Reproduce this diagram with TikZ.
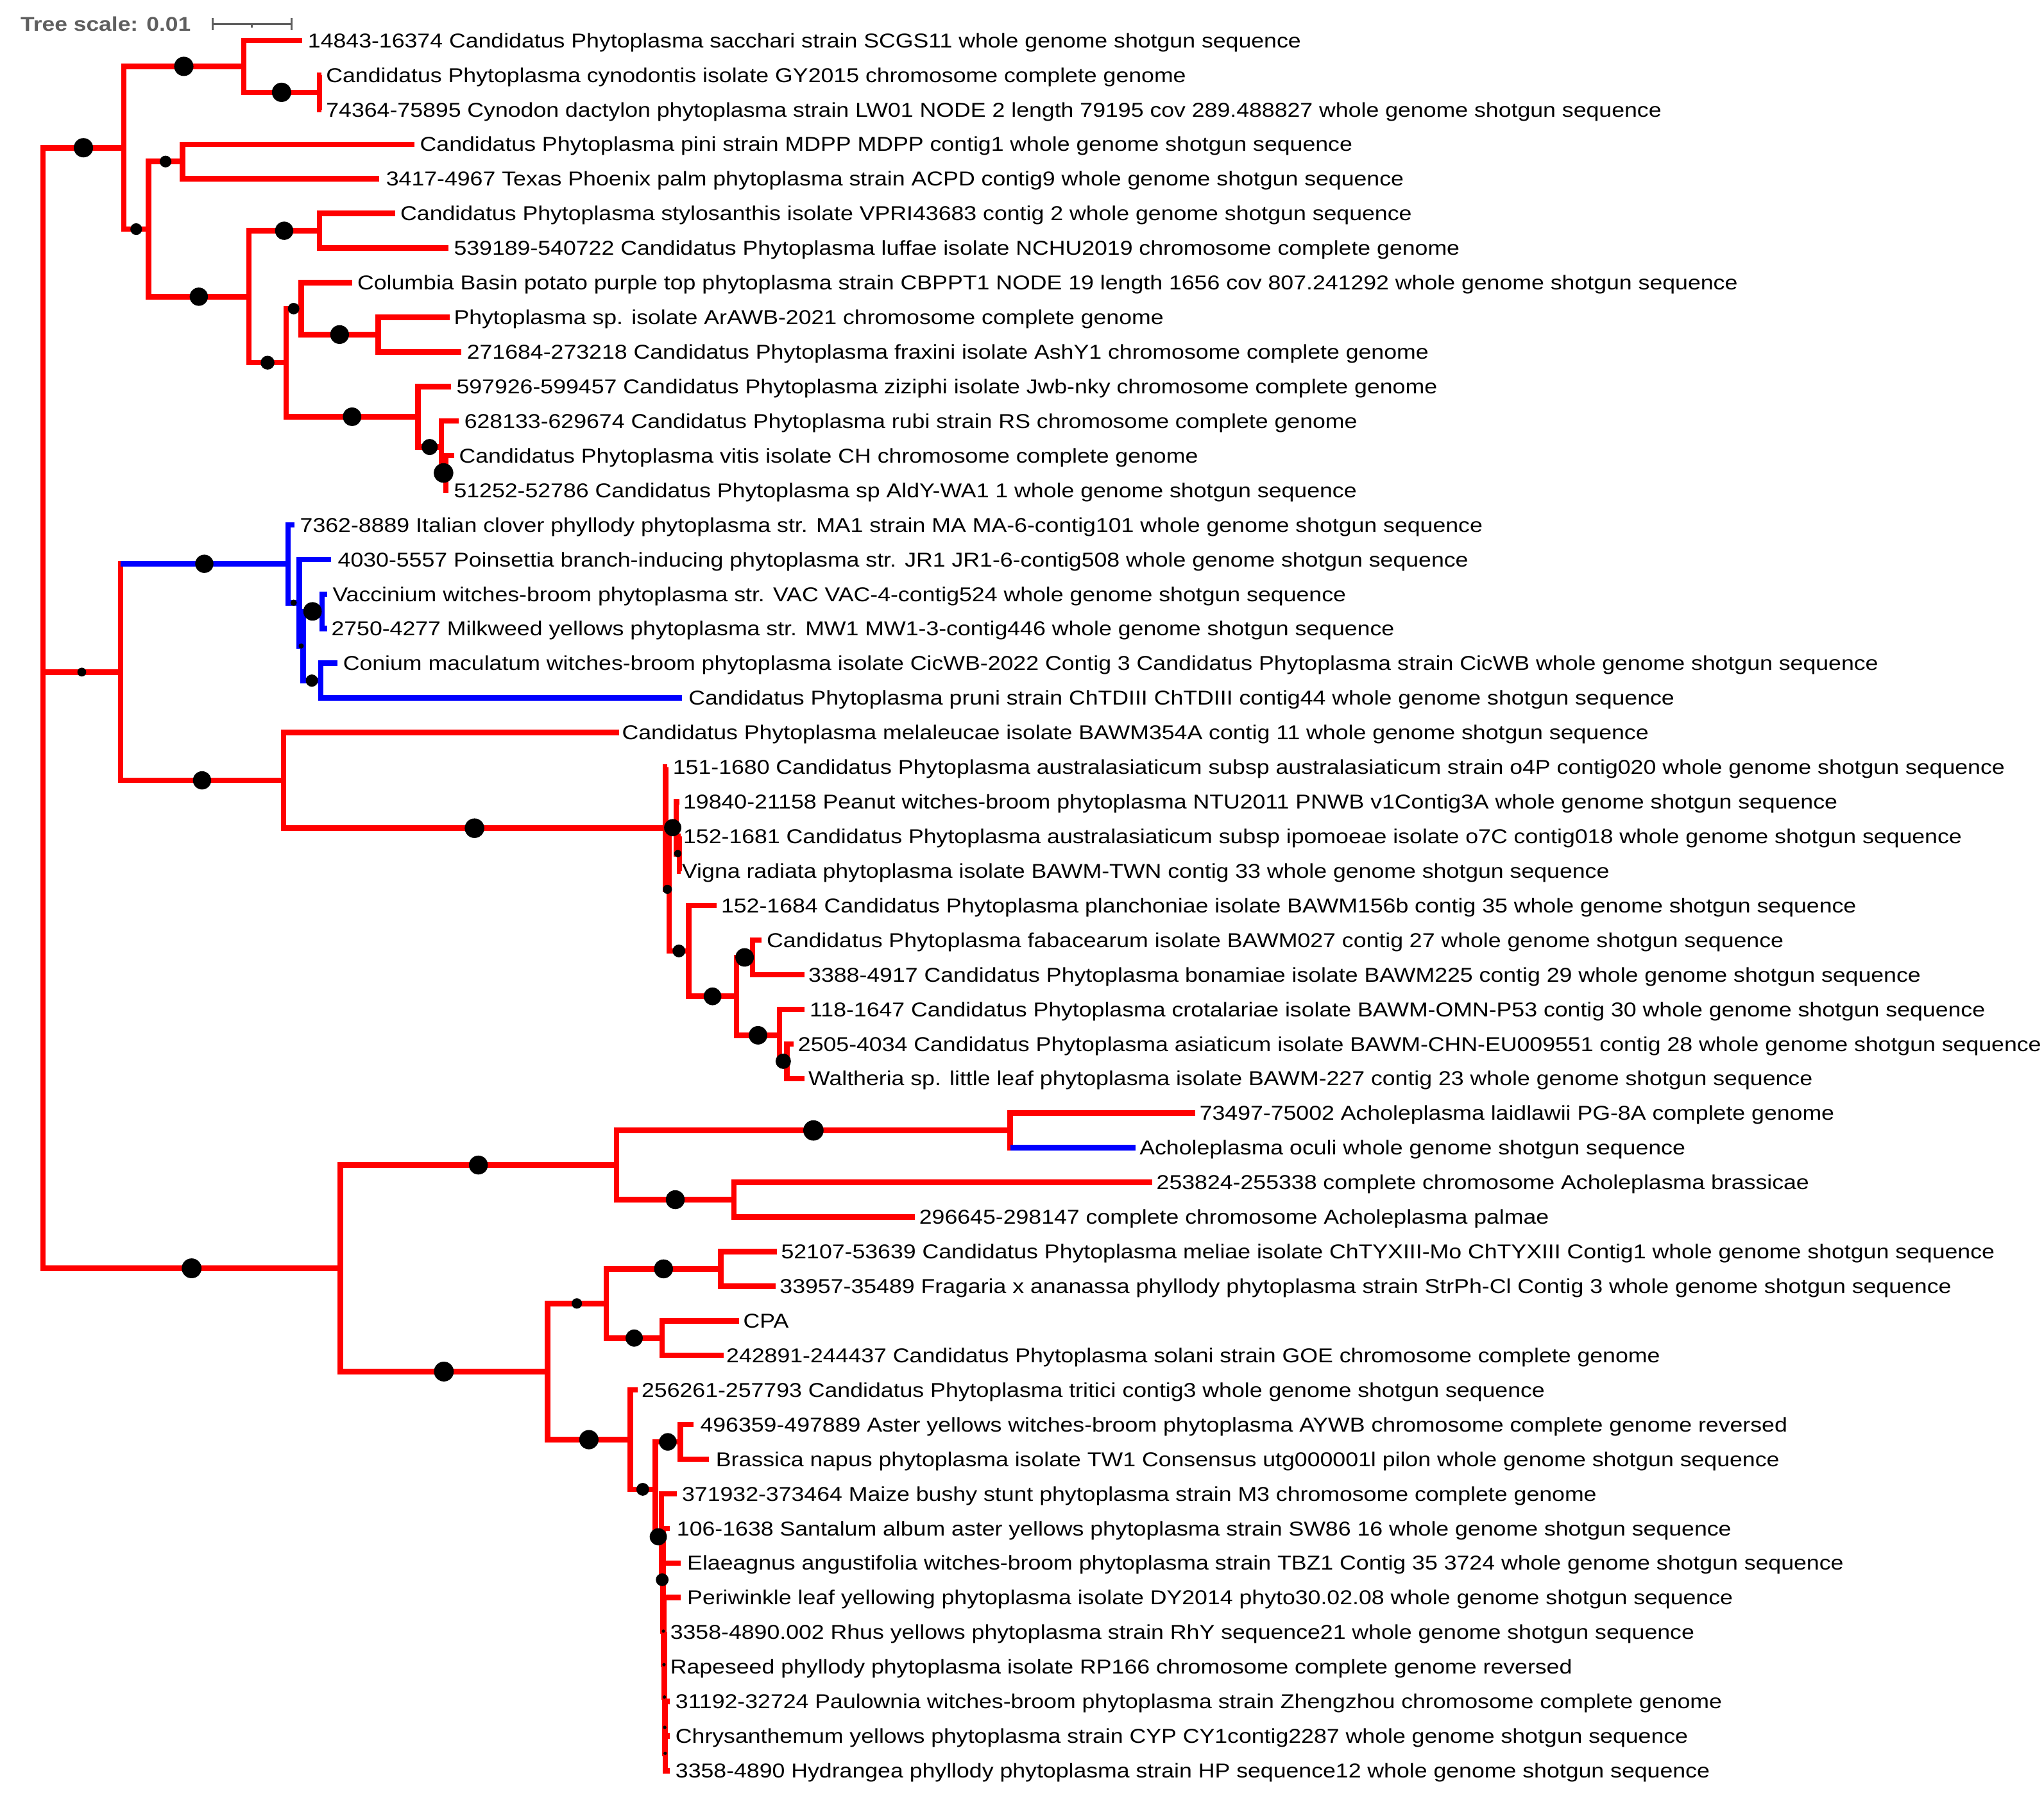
\documentclass[tikz,border=0pt]{standalone}
\usepackage{fontspec}
\setmainfont{Liberation Sans}[FakeStretch=1.14]
\usetikzlibrary{calc}
\definecolor{tred}{RGB}{255,0,0}
\definecolor{tblue}{RGB}{0,0,255}
\definecolor{scalegray}{RGB}{95,95,95}
\tikzset{
  br/.style={draw=tred, line width=4.2pt, line join=miter},
  bb/.style={draw=tblue, line width=4.2pt, line join=miter},
  bdot/.style={circle, fill=black, draw=none, inner sep=0pt, minimum size=#1},
  lbl/.style={anchor=west, inner sep=0pt, text height=11pt, text depth=0pt, font=\fontsize{15.4}{18}\selectfont},
  sbar/.style={draw=scalegray, line width=1.6pt}
}
\newcommand\mkleaf[5]{\coordinate (e#1) at (#3,#2); \node[lbl] (t#1) at (#4,#2) {#5};}
\newcommand\rb[2]{\draw[br] (#1) |- (#2);}
\newcommand\bl[2]{\draw[bb] (#1) |- (#2);}
\newcommand\dt[3]{\node[bdot=#3pt] (d#2) at ($(#1 |- #2)!0.5!(#2)$) {};}
\begin{document}
\begin{tikzpicture}[x=1pt,y=-1pt]
\useasboundingbox (0,0) rectangle (1568,1379);
% scale
\node[anchor=west, inner sep=0pt, text=scalegray, font=\bfseries\fontsize{15.3}{18}\selectfont] (ts) at (15.6,18.4) {Tree scale: 0.01};
\coordinate (sb1) at (163,18.4);
\coordinate (sb2) at (223.5,18.4);
\coordinate (sbm) at (193.25,18.4);
\draw[sbar] (sb1) -- (sb2);
\draw[sbar] ($(sb1)+(0,-4.5)$) -- ($(sb1)+(0,4.5)$);
\draw[sbar] ($(sb2)+(0,-4.5)$) -- ($(sb2)+(0,4.5)$);
\draw[sbar] (sbm) -- ($(sbm)+(0,3)$);
% leaves
\mkleaf{1}{31.00}{232}{236}{14843-16374 Candidatus Phytoplasma sacchari strain SCGS11 whole genome shotgun sequence}
\mkleaf{2}{57.54}{246.5}{250}{Candidatus Phytoplasma cynodontis isolate GY2015 chromosome complete genome}
\mkleaf{3}{84.08}{246.5}{250}{74364-75895 Cynodon dactylon phytoplasma strain LW01 NODE 2 length 79195 cov 289.488827 whole genome shotgun sequence}
\mkleaf{4}{110.62}{318}{322}{Candidatus Phytoplasma pini strain MDPP MDPP contig1 whole genome shotgun sequence}
\mkleaf{5}{137.16}{291}{296}{3417-4967 Texas Phoenix palm phytoplasma strain ACPD contig9 whole genome shotgun sequence}
\mkleaf{6}{163.70}{303}{307}{Candidatus Phytoplasma stylosanthis isolate VPRI43683 contig 2 whole genome shotgun sequence}
\mkleaf{7}{190.24}{344}{348}{539189-540722 Candidatus Phytoplasma luffae isolate NCHU2019 chromosome complete genome}
\mkleaf{8}{216.78}{270}{274}{Columbia Basin potato purple top phytoplasma strain CBPPT1 NODE 19 length 1656 cov 807.241292 whole genome shotgun sequence}
\mkleaf{9}{243.32}{345}{348}{Phytoplasma sp. isolate ArAWB-2021 chromosome complete genome}
\mkleaf{10}{269.86}{354}{358}{271684-273218 Candidatus Phytoplasma fraxini isolate AshY1 chromosome complete genome}
\mkleaf{11}{296.40}{346}{350}{597926-599457 Candidatus Phytoplasma ziziphi isolate Jwb-nky chromosome complete genome}
\mkleaf{12}{322.94}{352}{356}{628133-629674 Candidatus Phytoplasma rubi strain RS chromosome complete genome}
\mkleaf{13}{349.48}{348.5}{352}{Candidatus Phytoplasma vitis isolate CH chromosome complete genome}
\mkleaf{14}{376.02}{344}{348}{51252-52786 Candidatus Phytoplasma sp AldY-WA1 1 whole genome shotgun sequence}
\mkleaf{15}{402.56}{226}{230}{7362-8889 Italian clover phyllody phytoplasma str. MA1 strain MA MA-6-contig101 whole genome shotgun sequence}
\mkleaf{16}{429.10}{254}{259}{4030-5557 Poinsettia branch-inducing phytoplasma str. JR1 JR1-6-contig508 whole genome shotgun sequence}
\mkleaf{17}{455.64}{251}{255}{Vaccinium witches-broom phytoplasma str. VAC VAC-4-contig524 whole genome shotgun sequence}
\mkleaf{18}{482.18}{251}{254}{2750-4277 Milkweed yellows phytoplasma str. MW1 MW1-3-contig446 whole genome shotgun sequence}
\mkleaf{19}{508.72}{259}{263}{Conium maculatum witches-broom phytoplasma isolate CicWB-2022 Contig 3 Candidatus Phytoplasma strain CicWB whole genome shotgun sequence}
\mkleaf{20}{535.26}{523}{528}{Candidatus Phytoplasma pruni strain ChTDIII ChTDIII contig44 whole genome shotgun sequence}
\mkleaf{21}{561.80}{475}{477}{Candidatus Phytoplasma melaleucae isolate BAWM354A contig 11 whole genome shotgun sequence}
\mkleaf{22}{588.34}{512}{516}{151-1680 Candidatus Phytoplasma australasiaticum subsp australasiaticum strain o4P contig020 whole genome shotgun sequence}
\mkleaf{23}{614.88}{521}{524}{19840-21158 Peanut witches-broom phytoplasma NTU2011 PNWB v1Contig3A whole genome shotgun sequence}
\mkleaf{24}{641.42}{522}{524}{152-1681 Candidatus Phytoplasma australasiaticum subsp ipomoeae isolate o7C contig018 whole genome shotgun sequence}
\mkleaf{25}{667.96}{522}{523}{Vigna radiata phytoplasma isolate BAWM-TWN contig 33 whole genome shotgun sequence}
\mkleaf{26}{694.50}{549.5}{553}{152-1684 Candidatus Phytoplasma planchoniae isolate BAWM156b contig 35 whole genome shotgun sequence}
\mkleaf{27}{721.04}{584}{588}{Candidatus Phytoplasma fabacearum isolate BAWM027 contig 27 whole genome shotgun sequence}
\mkleaf{28}{747.58}{617}{620}{3388-4917 Candidatus Phytoplasma bonamiae isolate BAWM225 contig 29 whole genome shotgun sequence}
\mkleaf{29}{774.12}{617}{621}{118-1647 Candidatus Phytoplasma crotalariae isolate BAWM-OMN-P53 contig 30 whole genome shotgun sequence}
\mkleaf{30}{800.66}{608.6}{612}{2505-4034 Candidatus Phytoplasma asiaticum isolate BAWM-CHN-EU009551 contig 28 whole genome shotgun sequence}
\mkleaf{31}{827.20}{617}{620}{Waltheria sp. little leaf phytoplasma isolate BAWM-227 contig 23 whole genome shotgun sequence}
\mkleaf{32}{853.74}{917}{920}{73497-75002 Acholeplasma laidlawii PG-8A complete genome}
\mkleaf{33}{880.28}{871}{874}{Acholeplasma oculi whole genome shotgun sequence}
\mkleaf{34}{906.82}{884}{887}{253824-255338 complete chromosome Acholeplasma brassicae}
\mkleaf{35}{933.36}{702}{705}{296645-298147 complete chromosome Acholeplasma palmae}
\mkleaf{36}{959.90}{596}{599}{52107-53639 Candidatus Phytoplasma meliae isolate ChTYXIII-Mo ChTYXIII Contig1 whole genome shotgun sequence}
\mkleaf{37}{986.44}{595}{598}{33957-35489 Fragaria x ananassa phyllody phytoplasma strain StrPh-Cl Contig 3 whole genome shotgun sequence}
\mkleaf{38}{1012.98}{567}{570}{CPA}
\mkleaf{39}{1039.52}{555}{557}{242891-244437 Candidatus Phytoplasma solani strain GOE chromosome complete genome}
\mkleaf{40}{1066.06}{489}{492}{256261-257793 Candidatus Phytoplasma tritici contig3 whole genome shotgun sequence}
\mkleaf{41}{1092.60}{532}{537}{496359-497889 Aster yellows witches-broom phytoplasma AYWB chromosome complete genome reversed}
\mkleaf{42}{1119.14}{544}{549}{Brassica napus phytoplasma isolate TW1 Consensus utg000001l pilon whole genome shotgun sequence}
\mkleaf{43}{1145.68}{519}{523}{371932-373464 Maize bushy stunt phytoplasma strain M3 chromosome complete genome}
\mkleaf{44}{1172.22}{514}{519}{106-1638 Santalum album aster yellows phytoplasma strain SW86 16 whole genome shotgun sequence}
\mkleaf{45}{1198.76}{522}{527}{Elaeagnus angustifolia witches-broom phytoplasma strain TBZ1 Contig 35 3724 whole genome shotgun sequence}
\mkleaf{46}{1225.30}{522}{527}{Periwinkle leaf yellowing phytoplasma isolate DY2014 phyto30.02.08 whole genome shotgun sequence}
\mkleaf{47}{1251.84}{511.5}{514}{3358-4890.002 Rhus yellows phytoplasma strain RhY sequence21 whole genome shotgun sequence}
\mkleaf{48}{1278.38}{511.5}{514}{Rapeseed phyllody phytoplasma isolate RP166 chromosome complete genome reversed}
\mkleaf{49}{1304.92}{514}{518}{31192-32724 Paulownia witches-broom phytoplasma strain Zhengzhou chromosome complete genome}
\mkleaf{50}{1331.46}{514}{518}{Chrysanthemum yellows phytoplasma strain CYP CY1contig2287 whole genome shotgun sequence}
\mkleaf{51}{1358.00}{514}{518}{3358-4890 Hydrangea phyllody phytoplasma strain HP sequence12 whole genome shotgun sequence}
% internal nodes
\coordinate (Root) at (33,543.03);
\coordinate (Top) at (95,113.315);
\coordinate (A1) at (187,50.905);
\coordinate (A1b) at (245,70.81);
\coordinate (A2) at (114,175.725);
\coordinate (A3) at (140,123.89);
\coordinate (A4) at (191,227.56);
\coordinate (A5) at (245,176.97);
\coordinate (A6) at (219.5,278.15);
\coordinate (A7) at (231,236.685);
\coordinate (A9) at (290,256.59);
\coordinate (A8) at (320.7,319.62);
\coordinate (A10) at (338.5,342.845);
\coordinate (A11) at (342,362.75);
\coordinate (Z) at (92.5,515.46);
\coordinate (B1) at (221,432.42);
\coordinate (B2) at (229.6,462.275);
\coordinate (B3) at (232.5,495.45);
\coordinate (B4) at (247,468.91);
\coordinate (B5) at (246,521.99);
\coordinate (M) at (217.5,598.5);
\coordinate (C0) at (510.5,635.2);
\coordinate (C3) at (513.4,682.06);
\coordinate (C2) at (518.7,634.785);
\coordinate (C2b) at (521.2,654.69);
\coordinate (D) at (528.2,729.335);
\coordinate (E) at (565,764.17);
\coordinate (F) at (577.4,734.31);
\coordinate (G) at (598,794.025);
\coordinate (H) at (603.7,813.93);
\coordinate (Y) at (261,972.75);
\coordinate (V) at (473,893.55);
\coordinate (W) at (775,867.01);
\coordinate (X) at (563,920.09);
\coordinate (R) at (420,1051.94);
\coordinate (S) at (465,999.71);
\coordinate (T) at (553,973.17);
\coordinate (U) at (508,1026.25);
\coordinate (Q) at (483.5,1104.16);
\coordinate (N1) at (502.6,1142.25);
\coordinate (AY) at (522,1105.87);
\coordinate (N2) at (507.4,1178.64);
\coordinate (P0) at (508.6,1211.6);
\coordinate (P1) at (509.2,1251.01);
\coordinate (P2) at (509.5,1276.72);
\coordinate (P3) at (509.8,1301.6);
\coordinate (P4) at (510.1,1324.825);
\coordinate (P5) at (510.4,1344.73);
% red branches
\rb{Root}{Top}\rb{Root}{Z}\rb{Root}{Y}
\rb{Top}{A1}\rb{Top}{A2}
\rb{A1}{e1}\rb{A1}{A1b}\rb{A1b}{e2}\rb{A1b}{e3}
\rb{A2}{A3}\rb{A2}{A4}\rb{A3}{e4}\rb{A3}{e5}
\rb{A4}{A5}\rb{A4}{A6}\rb{A5}{e6}\rb{A5}{e7}
\rb{A6}{A7}\rb{A6}{A8}\rb{A7}{e8}\rb{A7}{A9}\rb{A9}{e9}\rb{A9}{e10}
\rb{A8}{e11}\rb{A8}{A10}\rb{A10}{e12}\rb{A10}{A11}\rb{A11}{e13}\rb{A11}{e14}
\rb{Z}{M}
\draw[br, line cap=rect] (Z) -- (Z |- B1);
\rb{M}{e21}\rb{M}{C0}
\rb{C0}{e22}\rb{C0}{C3}\rb{C3}{C2}\rb{C3}{D}
\rb{C2}{e23}\rb{C2}{C2b}\rb{C2b}{e24}\rb{C2b}{e25}
\rb{D}{e26}\rb{D}{E}\rb{E}{F}\rb{E}{G}\rb{F}{e27}\rb{F}{e28}
\rb{G}{e29}\rb{G}{H}\rb{H}{e30}\rb{H}{e31}
\rb{Y}{V}\rb{Y}{R}\rb{V}{W}\rb{V}{X}
\rb{W}{e32}
\draw[br, line cap=rect] (W) -- (W |- e33);
\rb{X}{e34}\rb{X}{e35}
\rb{R}{S}\rb{R}{Q}\rb{S}{T}\rb{S}{U}
\rb{T}{e36}\rb{T}{e37}\rb{U}{e38}\rb{U}{e39}
\rb{Q}{e40}\rb{Q}{N1}\rb{N1}{AY}\rb{N1}{N2}
\rb{AY}{e41}\rb{AY}{e42}
\rb{N2}{e43}\rb{N2}{P0}
\rb{P0}{e44}\rb{P0}{e45}\rb{P0}{P1}
\rb{P1}{e46}\rb{P1}{P2}
\rb{P2}{e47}\rb{P2}{P3}
\rb{P3}{e48}\rb{P3}{P4}
\rb{P4}{e49}\rb{P4}{P5}
\rb{P5}{e50}\rb{P5}{e51}
% blue branches
\draw[bb] (Z |- B1) -- (B1);
\bl{B1}{e15}\bl{B1}{B2}
\bl{B2}{e16}\bl{B2}{B3}
\bl{B3}{B4}\bl{B3}{B5}
\bl{B4}{e17}\bl{B4}{e18}
\bl{B5}{e19}\bl{B5}{e20}
\draw[bb] (W |- e33) -- (e33);
% support dots
\dt{Root}{Top}{14.8}\dt{Top}{A1}{14.8}\dt{A1}{A1b}{14.8}
\dt{Top}{A2}{9}\dt{A2}{A3}{9}\dt{A2}{A4}{14}
\dt{A4}{A5}{14}\dt{A4}{A6}{10.6}\dt{A6}{A7}{8.8}
\dt{A7}{A9}{14.4}\dt{A6}{A8}{14.2}\dt{A8}{A10}{12.4}\dt{A10}{A11}{15}
\dt{Root}{Z}{6.8}\dt{Z}{B1}{14}\dt{B1}{B2}{4.8}\dt{B2}{B3}{4}
\dt{B3}{B4}{14.2}\dt{B3}{B5}{9.4}
\dt{Z}{M}{14}\dt{M}{C0}{15}\dt{C0}{C3}{7}\dt{C3}{C2}{13.2}
\dt{C2}{C2b}{5.6}\dt{C3}{D}{9.8}\dt{D}{E}{13.6}\dt{E}{F}{14.2}
\dt{E}{G}{14.2}\dt{G}{H}{11.8}
\dt{Root}{Y}{15.2}\dt{Y}{V}{14.5}\dt{V}{W}{15.6}\dt{V}{X}{14.5}
\dt{Y}{R}{15.2}\dt{R}{S}{8}\dt{R}{Q}{14.8}\dt{S}{T}{14.5}\dt{S}{U}{13.2}
\dt{Q}{N1}{9.8}\dt{N1}{AY}{13.5}\dt{N1}{N2}{13.2}\dt{N2}{P0}{9.8}
\dt{P0}{P1}{2.6}\dt{P1}{P2}{2.6}\dt{P2}{P3}{2.6}\dt{P3}{P4}{2.6}\dt{P4}{P5}{2.6}
\end{tikzpicture}
\end{document}
